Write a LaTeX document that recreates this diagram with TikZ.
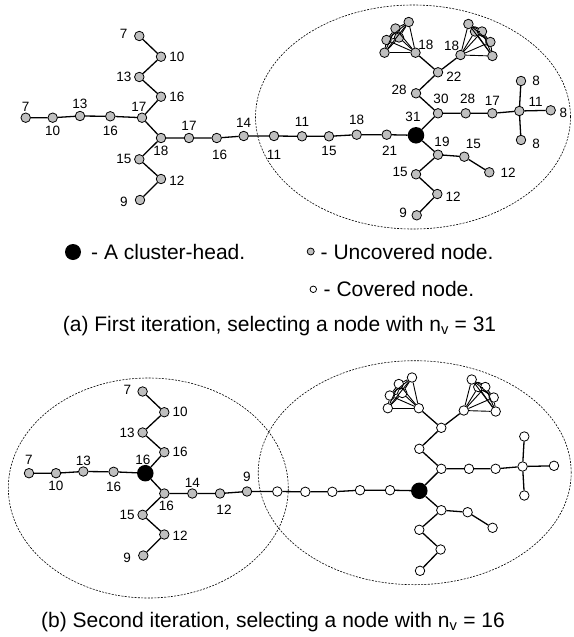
\documentclass[tikz,border=0pt]{standalone}
\usepackage{fontspec}
\setmainfont{Liberation Sans}
\definecolor{nodegray}{gray}{0.75}
\tikzset{
  gnode/.style={circle,draw,fill=nodegray,minimum size=9.5pt,inner sep=0pt,line width=0.8pt},
  wnode/.style={gnode,fill=white},
  head/.style={circle,fill=black,minimum size=16.5pt,inner sep=0pt},
  edge/.style={line width=1.3pt},
  clq/.style={line width=0.9pt},
  cluster/.style={line width=0.6pt,dash pattern=on 2pt off 1.3pt},
  lbl/.style={font=\fontsize{13.5}{14}\selectfont,inner sep=1pt},
  legtext/.style={font=\fontsize{21}{24}\selectfont,inner sep=0pt,anchor=west},
  captext/.style={font=\fontsize{21}{24}\selectfont,inner sep=0pt,anchor=base}
}

\begin{document}
\begin{tikzpicture}[x=1pt,y=-1pt]
\useasboundingbox (0,0) rectangle (573,637);
%% clusters
\draw[cluster] (413,117) ellipse [x radius=157.5pt, y radius=112pt];
\draw[cluster] (148.3,488) ellipse [x radius=140pt, y radius=110pt];
\draw[cluster] (414.7,472.7) ellipse [x radius=156.5pt, y radius=112pt];
%%
%% (a) first iteration
\begin{scope}
\node[gnode,label={[lbl]above:7}] (aL1) at (25.7,117.7) {};
\node[gnode,label={[lbl,yshift=-2pt]below:10}] (aL2) at (52.7,117.7) {};
\node[gnode,label={[lbl,yshift=1pt]above:13}] (aL3) at (80,116) {};
\node[gnode,label={[lbl,yshift=-3pt]below:16}] (aL4) at (110.3,116.3) {};
\node[gnode,label={[lbl,xshift=-3pt]above:17}] (aC) at (142,117.7) {};
\node[gnode,label={[lbl,xshift=2pt]right:16}] (aU1) at (161,96.7) {};
\node[gnode,label={[lbl,xshift=-1.5pt]left:13}] (aU2) at (139.3,77) {};
\node[gnode,label={[lbl,xshift=2pt]right:10}] (aU3) at (161,56.7) {};
\node[gnode,label={[lbl,xshift=-5.5pt,yshift=2pt]left:7}] (aU4) at (139.3,36) {};
\node[gnode,label={[lbl,yshift=-2pt]below:18}] (aD) at (161,138) {};
\node[gnode,label={[lbl,xshift=-1.5pt]left:15}] (aD1) at (139.3,159.3) {};
\node[gnode,label={[lbl,xshift=2pt,yshift=-2pt]right:12}] (aD2) at (161,179) {};
\node[gnode,label={[lbl,xshift=-6pt,yshift=-1.5pt]left:9}] (aD3) at (140,200) {};
\node[gnode,label={[lbl,yshift=1pt]above:17}] (aP1) at (189,138) {};
\node[gnode,label={[lbl,xshift=3pt,yshift=-6pt]below:16}] (aP2) at (216.7,138) {};
\node[gnode,label={[lbl,yshift=2pt]above:14}] (aP3) at (243.7,136) {};
\node[gnode,label={[lbl,yshift=-8pt]below:11}] (aP4) at (274,136) {};
\node[gnode,label={[lbl,yshift=3pt]above:11}] (aP5) at (302,136.3) {};
\node[gnode,label={[lbl,yshift=-4pt]below:15}] (aP6) at (329,136.3) {};
\node[gnode,label={[lbl,yshift=4pt]above:18}] (aP7) at (356.7,134.7) {};
\node[gnode,label={[lbl,xshift=3pt,yshift=-5pt]below:21}] (aP8) at (386.7,134.7) {};
\node[head,label={[lbl,xshift=-3pt,yshift=4pt]above:31}] (aH) at (416,135.3) {};
\node[gnode,label={[lbl,xshift=3pt,yshift=3pt]above:30}] (aR1) at (438,113.3) {};
\node[gnode,label={[lbl,xshift=-3pt,yshift=3pt]left:28}] (aR2) at (416,93.3) {};
\node[gnode,label={[lbl,xshift=2pt,yshift=-4pt]right:22}] (aR3) at (438,72.3) {};
\node[gnode,label={[lbl,xshift=-2pt,yshift=-1.5pt]above right:18}] (aQ6) at (415.5,52.7) {};
\node[gnode,label={[lbl,xshift=3.5pt]above left:18}] (aW6) at (460.5,55) {};
\node[gnode,label={[lbl,xshift=2pt,yshift=3pt]above:28}] (aR4) at (465.7,113.3) {};
\node[gnode,label={[lbl,yshift=1pt]above:17}] (aR5) at (492.3,113.3) {};
\node[gnode,label={[lbl,xshift=4.5pt]above right:11}] (aX) at (519.3,111) {};
\node[gnode,label={[lbl,xshift=5pt]right:8}] (aT1) at (521,81) {};
\node[gnode,label={[lbl,xshift=2.5pt,yshift=-3pt]right:8}] (aT2) at (550.7,110.3) {};
\node[gnode,label={[lbl,xshift=5pt,yshift=-4pt]right:8}] (aT3) at (521,140) {};
\node[gnode,label={[lbl,xshift=4pt,yshift=1.5pt]above:19}] (aS1) at (438,154.7) {};
\node[gnode,label={[lbl,xshift=9pt,yshift=2pt]above:15}] (aS2) at (464.3,156.7) {};
\node[gnode,label={[lbl,xshift=5pt]right:12}] (aS3) at (489.3,172.3) {};
\node[gnode,label={[lbl,xshift=-2pt,yshift=2pt]left:15}] (aS4) at (416,174.3) {};
\node[gnode,label={[lbl,xshift=2pt,yshift=-3pt]right:12}] (aS5) at (437.3,194) {};
\node[gnode,label={[lbl,xshift=-3.5pt,yshift=2.5pt]left:9}] (aS6) at (416.7,215.3) {};
% cliques
\foreach \n/\x/\y in {1/408.7/22,2/395.5/28.5,3/399/37.5,4/386.5/40,5/384.5/52.7}
  \node[gnode] (aQ\n) at (\x,\y) {};
\foreach \n/\x/\y in {1/468.4/24,2/475/31.5,3/482/31.5,4/490.4/42,5/492.4/56}
  \node[gnode] (aW\n) at (\x,\y) {};
%%
\draw[edge] (aL1) -- (aL2) -- (aL3) -- (aL4) -- (aC) -- (aU1) -- (aU2) -- (aU3) -- (aU4);
\draw[edge] (aC) -- (aD) -- (aD1) -- (aD2) -- (aD3);
\draw[edge] (aD) -- (aP1) -- (aP2) -- (aP3) -- (aP4) -- (aP5) -- (aP6) -- (aP7) -- (aP8) -- (aH);
\draw[edge] (aH) -- (aR1) -- (aR2) -- (aR3) -- (aQ6);
\draw[edge] (aR3) -- (aW6);
\draw[edge] (aR1) -- (aR4) -- (aR5) -- (aX) -- (aT2);
\draw[edge] (aT1) -- (aX) -- (aT3);
\draw[edge] (aH) -- (aS1) -- (aS2) -- (aS3);
\draw[edge] (aS1) -- (aS4) -- (aS5) -- (aS6);
\foreach \i in {1,...,5} {
  \pgfmathtruncatemacro\k{\i+1}
  \foreach \j in {\k,...,6} {
    \draw[clq] (aQ\i) -- (aQ\j);
    \draw[clq] (aW\i) -- (aW\j);
  }
}
\end{scope}
%%
%% legend
\node[head,minimum size=16pt] (kHead) at (73,252) {};
\node[legtext] (kHeadT) at (91,252) {- A cluster-head.};
\node[gnode,minimum size=7pt] (kUnc) at (310.7,251.5) {};
\node[legtext] (kUncT) at (320.5,252) {- Uncovered node.};
\node[wnode,minimum size=6.5pt] (kCov) at (313.3,289.3) {};
\node[legtext] (kCovT) at (323.5,288.5) {- Covered node.};
\node[captext] (capA) at (279.5,331) {(a) First iteration, selecting a node with n\textsubscript{v} = 31};
%%
%% (b) second iteration
\begin{scope}[shift={(3.3,355.5)}]
\node[gnode,label={[lbl,yshift=2pt]above:7}] (bL1) at (25.7,117.7) {};
\node[gnode,label={[lbl,yshift=-2pt]below:10}] (bL2) at (52.7,117.7) {};
\node[gnode,label={[lbl]above:13}] (bL3) at (80,116) {};
\node[gnode,label={[lbl,yshift=-4pt]below:16}] (bL4) at (110.3,116.3) {};
\node[head,label={[lbl,xshift=-2.5pt,yshift=-1pt]above:16}] (bC) at (142,117.7) {};
\node[gnode,label={[lbl,xshift=2pt]right:16}] (bU1) at (161,96.7) {};
\node[gnode,label={[lbl,xshift=-1.5pt]left:13}] (bU2) at (139.3,77) {};
\node[gnode,label={[lbl,xshift=2pt]right:10}] (bU3) at (161,56.7) {};
\node[gnode,label={[lbl,xshift=-5pt,yshift=1.5pt]left:7}] (bU4) at (139.3,36) {};
\node[gnode,label={[lbl,xshift=2pt,yshift=-1pt]below:16}] (bD) at (161,138) {};
\node[gnode,label={[lbl,xshift=-1.5pt]left:15}] (bD1) at (139.3,159.3) {};
\node[gnode,label={[lbl,xshift=2pt,yshift=-1pt]right:12}] (bD2) at (161,179) {};
\node[gnode,label={[lbl,xshift=-6pt,yshift=-2pt]left:9}] (bD3) at (140,200) {};
\node[gnode,label={[lbl]above:14}] (bP1) at (189,138) {};
\node[gnode,label={[lbl,xshift=4pt,yshift=-5pt]below:12}] (bP2) at (216.7,138) {};
\node[gnode,label={[lbl,yshift=4pt]above:9}] (bP3) at (243.7,136) {};
\node[wnode] (bP4) at (274,136) {};
\node[wnode] (bP5) at (302,136.3) {};
\node[wnode] (bP6) at (329,136.3) {};
\node[wnode] (bP7) at (356.7,134.7) {};
\node[wnode] (bP8) at (386.7,134.7) {};
\node[head] (bH) at (416,135.3) {};
\node[wnode] (bR1) at (438,113.3) {};
\node[wnode] (bR2) at (416,93.3) {};
\node[wnode] (bR3) at (438,72.3) {};
\node[wnode] (bQ6) at (415.5,52.7) {};
\node[wnode] (bW6) at (460.5,55) {};
\node[wnode] (bR4) at (465.7,113.3) {};
\node[wnode] (bR5) at (492.3,113.3) {};
\node[wnode] (bX) at (519.3,111) {};
\node[wnode] (bT1) at (521,81) {};
\node[wnode] (bT2) at (550.7,110.3) {};
\node[wnode] (bT3) at (521,140) {};
\node[wnode] (bS1) at (438,154.7) {};
\node[wnode] (bS2) at (464.3,156.7) {};
\node[wnode] (bS3) at (489.3,172.3) {};
\node[wnode] (bS4) at (416,174.3) {};
\node[wnode] (bS5) at (437.3,194) {};
\node[wnode] (bS6) at (416.7,215.3) {};
% cliques
\foreach \n/\x/\y in {1/408.7/22,2/395.5/28.5,3/399/37.5,4/386.5/40,5/384.5/52.7}
  \node[wnode] (bQ\n) at (\x,\y) {};
\foreach \n/\x/\y in {1/468.4/24,2/475/31.5,3/482/31.5,4/490.4/42,5/492.4/56}
  \node[wnode] (bW\n) at (\x,\y) {};
%%
\draw[edge] (bL1) -- (bL2) -- (bL3) -- (bL4) -- (bC) -- (bU1) -- (bU2) -- (bU3) -- (bU4);
\draw[edge] (bC) -- (bD) -- (bD1) -- (bD2) -- (bD3);
\draw[edge] (bD) -- (bP1) -- (bP2) -- (bP3) -- (bP4) -- (bP5) -- (bP6) -- (bP7) -- (bP8) -- (bH);
\draw[edge] (bH) -- (bR1) -- (bR2) -- (bR3) -- (bQ6);
\draw[edge] (bR3) -- (bW6);
\draw[edge] (bR1) -- (bR4) -- (bR5) -- (bX) -- (bT2);
\draw[edge] (bT1) -- (bX) -- (bT3);
\draw[edge] (bH) -- (bS1) -- (bS2) -- (bS3);
\draw[edge] (bS1) -- (bS4) -- (bS5) -- (bS6);
\foreach \i in {1,...,5} {
  \pgfmathtruncatemacro\k{\i+1}
  \foreach \j in {\k,...,6} {
    \draw[clq] (bQ\i) -- (bQ\j);
    \draw[clq] (bW\i) -- (bW\j);
  }
}
\end{scope}
\node[captext] (capB) at (273,627) {(b) Second iteration, selecting a node with n\textsubscript{v} = 16};
\end{tikzpicture}
\end{document}
